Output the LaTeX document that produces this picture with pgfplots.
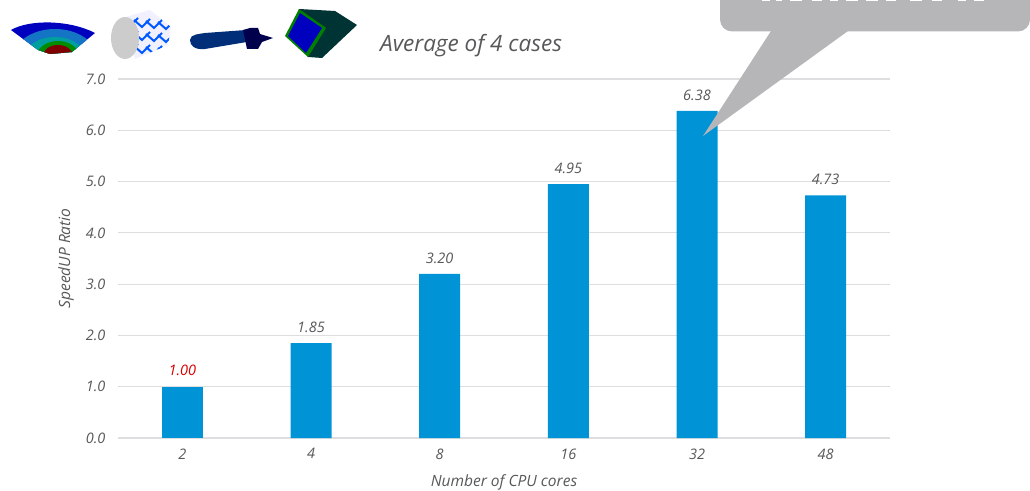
\documentclass[border=0pt]{standalone}
\usepackage{pgfplots}
\pgfplotsset{compat=1.18}
\usepackage{fontspec}
\setmainfont{Open Sans}
\definecolor{barblue}{HTML}{0093D6}
\definecolor{gridc}{HTML}{DEDEE0}
\definecolor{txt}{HTML}{58585A}
\definecolor{bub}{HTML}{B6B6B9}
\begin{document}
\begin{tikzpicture}[x=1pt,y=1pt]
\path[use as bounding box] (0,0) rectangle (1030,490);
\clip (0,0) rectangle (1030,490);
\begin{axis}[
  at={(118pt,52pt)}, anchor=south west,
  scale only axis, width=772pt, height=359pt,
  xmin=-0.5, xmax=5.5, ymin=0, ymax=7,
  xtick={0,1,2,3,4,5}, xticklabels={2,4,8,16,32,48},
  ytick={0,1,2,3,4,5,6,7},
  /pgf/number format/assume math mode=true,
  yticklabel style={/pgf/number format/fixed,/pgf/number format/fixed zerofill,/pgf/number format/precision=1,xshift=-9pt},
  tick align=outside, major tick length=0pt,
  axis line style={draw=none},
  ymajorgrids, grid style={gridc,line width=1.1pt},
  tick label style={font=\itshape\fontsize{14.5}{16}\selectfont,text=txt},
  xticklabel style={yshift=-7pt},
  label style={font=\itshape\fontsize{15.5}{18}\selectfont,text=txt},
  xlabel={Number of CPU cores}, ylabel={SpeedUP Ratio},
  xlabel style={at={(axis description cs:0.5,0)},anchor=center,yshift=-44.5pt},
  ylabel style={at={(axis description cs:0,0.5)},anchor=center,yshift=52pt},
  ybar, bar width=41pt, bar shift=0pt,
  nodes near coords,
  every node near coord/.append style={font=\itshape\fontsize{14.5}{16}\selectfont,text=txt,
    /pgf/number format/fixed,/pgf/number format/fixed zerofill,/pgf/number format/precision=2},
  clip=false,
]
\addplot[fill=barblue,draw=none,
  every node near coord/.append style={text=red!85!black,yshift=7pt}] coordinates {(0,1.00)};
\addplot[fill=barblue,draw=none,
  every node near coord/.append style={yshift=7pt}] coordinates {(1,1.85) (2,3.20) (3,4.95) (4,6.38) (5,4.73)};
\end{axis}
\node[anchor=base west,inner sep=0,text=txt] at (380,438.5) {\itshape\fontsize{22.5}{26}\selectfont Average of 4 cases};
\begin{scope}[yshift=490pt,yscale=-1]
  % callout
  \fill[bub,rounded corners=12pt] (720,-40) rectangle (1030,31.5);
  \fill[bub] (771,31) -- (703,136) -- (848,31) -- cycle;
  \foreach \a/\b in {762/770,776/782,790/802,812/822,830/838,846/858,866/878,886/896,910/922,932/942,958/966,974/984}
    \fill[white] (\a,-1) rectangle (\b,1.5);
  % fan
  \begin{scope}
    \clip (11,30) .. controls (30,19) and (70,20) .. (95,33) -- (72,52) -- (50,54) -- (38,50) -- cycle;
    \fill[blue!75!black] (0,10) rectangle (100,60);
    \fill[cyan!55!blue] (55,60) ellipse (43 and 31);
    \fill[teal!75!cyan] (55,60) ellipse (32 and 23);
    \fill[green!55!black] (58,58) ellipse (22 and 17);
    \fill[red!50!black] (58,56) ellipse (15 and 11);
  \end{scope}
  % cylinder
  \begin{scope}
    \fill[blue!6] (122,18) -- (150,10) -- (171,27) -- (168,45) -- (135,59) -- cycle;
    \clip (122,18) -- (150,10) -- (171,27) -- (168,45) -- (135,59) -- cycle;
    \foreach \s in {0,1,2,3}{
      \draw[blue!65!cyan,line width=2pt] (122+12*\s,19+1*\s) -- (130+12*\s,26+1*\s) -- (138+12*\s,18+1*\s);
      \draw[blue!65!cyan,line width=2pt] (122+12*\s,32+1*\s) -- (130+12*\s,39+1*\s) -- (138+12*\s,31+1*\s);
      \draw[blue!65!cyan,line width=2pt] (122+12*\s,45+1*\s) -- (130+12*\s,52+1*\s) -- (138+12*\s,44+1*\s);
    }
  \end{scope}
  \fill[gray!40] (125,38) ellipse (14 and 21);
  % bullet
  \fill[teal!55!blue!65!black] (190,40) .. controls (190,34) and (200,34) .. (205,33) -- (246,30) -- (247,42) -- (205,49) .. controls (195,50) and (190,46) .. (190,40) -- cycle;
  \fill[blue!30!black] (243,30) -- (250,28) -- (258,28) -- (260,34) -- (273,38) -- (262,42) -- (258,49) -- (247,49) -- cycle;
  % cube
  \fill[teal!40!black] (299,9) -- (335,11) -- (357,25) -- (322,58) -- (308,57) -- cycle;
  \fill[green!50!black] (299,9) -- (326,28) -- (308,57) -- (285,36) -- cycle;
  \fill[blue!75!black] (300,13) -- (322,28) -- (306,53) -- (288,36) -- cycle;
\end{scope}
\end{tikzpicture}
\end{document}
